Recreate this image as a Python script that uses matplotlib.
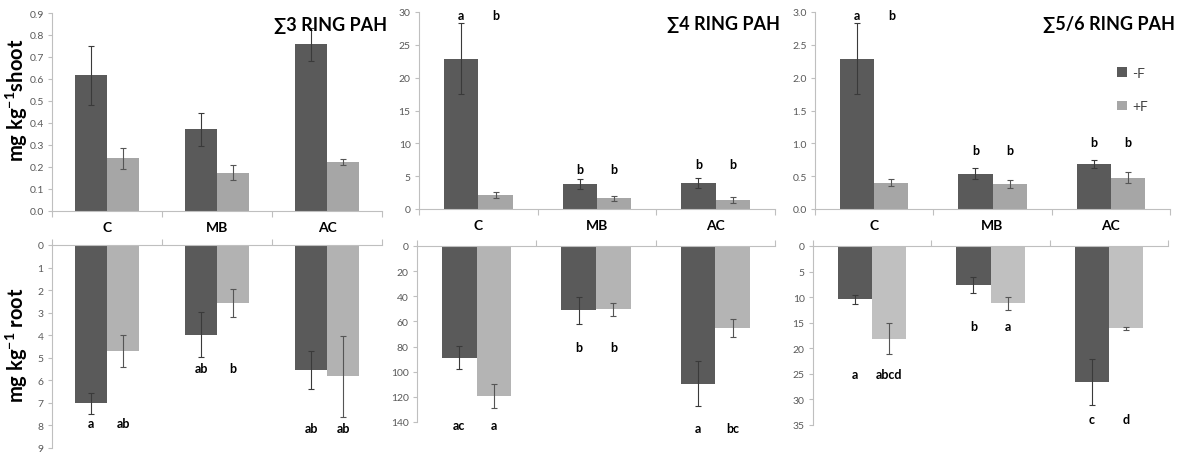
import numpy as np
import matplotlib
matplotlib.use("Agg")
import matplotlib.pyplot as plt
from matplotlib.ticker import MultipleLocator, FormatStrFormatter

plt.rcParams['font.family'] = ['Lato', 'DejaVu Sans']
plt.rcParams['mathtext.fontset'] = 'custom'
plt.rcParams['mathtext.rm'] = 'Lato'
plt.rcParams['mathtext.bf'] = 'Lato:bold'

categories = ['C', 'MB', 'AC']
series = ['-F', '+F']

# shoot concentrations (mg/kg) : -F, +F
shoot3_minus = [0.616, 0.372, 0.757]
shoot3_minus_err = [0.136, 0.075, 0.073]
shoot3_plus = [0.239, 0.175, 0.223]
shoot3_plus_err = [0.047, 0.033, 0.012]

shoot4_minus = [22.9, 3.8, 4.0]
shoot4_minus_err = [5.4, 0.75, 0.75]
shoot4_plus = [2.1, 1.63, 1.37]
shoot4_plus_err = [0.45, 0.4, 0.4]

shoot56_minus = [2.29, 0.54, 0.686]
shoot56_minus_err = [0.545, 0.08, 0.06]
shoot56_plus = [0.40, 0.38, 0.478]
shoot56_plus_err = [0.055, 0.055, 0.085]

# root concentrations (mg/kg) : -F, +F
root3_minus = [7.02, 3.97, 5.54]
root3_minus_err = [0.46, 0.98, 0.83]
root3_plus = [4.70, 2.57, 5.83]
root3_plus_err = [0.69, 0.62, 1.81]

root4_minus = [88.8, 51.2, 109.5]
root4_minus_err = [9.0, 11.0, 17.7]
root4_plus = [119.3, 50.4, 65.2]
root4_plus_err = [9.5, 5.0, 7.5]

root56_minus = [10.45, 7.7, 26.65]
root56_minus_err = [0.9, 1.55, 4.5]
root56_plus = [18.1, 11.2, 16.1]
root56_plus_err = [3.1, 1.3, 0.3]

# significance letters: (-F letters, +F letters, y position per category)
shoot4_letters = (['a', 'b', 'b'], ['b', 'b', 'b'], [29.6, 6.1, 6.8])
shoot56_letters = (['a', 'b', 'b'], ['b', 'b', 'b'], [2.96, 0.905, 1.02])
root3_letters = (['a', 'ab', 'ab'], ['ab', 'b', 'ab'], [7.9, 5.45, 8.1])
root4_letters = (['ac', 'b', 'a'], ['a', 'b', 'bc'], [142.7, 80, 144.5])
root56_letters = (['a', 'b', 'c'], ['abcd', 'a', 'd'], [25.0, 15.7, 33.8])

DARK = '#5a5a5a'
LIGHT = '#a6a6a6'
AXIS = '#bfbfbf'
TXT = '#595959'
W, H = 1193, 456
BW = 0.29

fig = plt.figure(figsize=(W / 100, H / 100), dpi=100)


def px_axes(l, t, r, b):
    return fig.add_axes([l / W, 1 - b / H, (r - l) / W, (b - t) / H])


def draw_panel(ax, minus, minus_err, plus, plus_err, ymax, step, fmt,
               root=False, light=LIGHT, letters=None, title=None):
    x = np.arange(len(categories))
    ax.bar(x - BW / 2, minus, BW, color=DARK, label=series[0], zorder=2)
    ax.bar(x + BW / 2, plus, BW, color=light, label=series[1], zorder=2)
    ax.errorbar(x - BW / 2, minus, yerr=minus_err, fmt='none', ecolor='#3a3a3a',
                elinewidth=0.8, capsize=2.5, capthick=0.8, zorder=3)
    ax.errorbar(x + BW / 2, plus, yerr=plus_err, fmt='none', ecolor='#555555',
                elinewidth=0.8, capsize=2.5, capthick=0.8, zorder=3)
    ax.set_xlim(-0.5, 2.5)
    ax.set_ylim(0, ymax)
    ax.yaxis.set_major_locator(MultipleLocator(step))
    ax.yaxis.set_major_formatter(FormatStrFormatter(fmt))
    ax.tick_params(axis='y', labelsize=7.5, colors=AXIS, labelcolor=TXT,
                   length=3, width=0.8, pad=3)
    ax.set_xticks([-0.5, 0.5, 1.5, 2.5])
    ax.set_xticklabels([])
    ax.tick_params(axis='x', which='major', colors=AXIS, length=4, width=0.8)
    for side in ax.spines:
        ax.spines[side].set_color(AXIS)
        ax.spines[side].set_linewidth(0.8)
    ax.spines['right'].set_visible(False)
    if root:
        ax.invert_yaxis()
        ax.spines['bottom'].set_visible(False)
        ax.xaxis.tick_top()
    else:
        ax.spines['top'].set_visible(False)
        ax.set_xticks(x, minor=True)
        ax.set_xticklabels(categories, minor=True, fontsize=10,
                           fontweight='bold', color='black')
        ax.tick_params(axis='x', which='minor', length=0, pad=7)
    if letters is not None:
        lm, lp, ly = letters
        for i in range(len(categories)):
            ax.text(x[i] - BW / 2, ly[i], lm[i], ha='center', va='center',
                    fontsize=9, fontweight='bold', zorder=4)
            ax.text(x[i] + BW / 2, ly[i], lp[i], ha='center', va='center',
                    fontsize=9, fontweight='bold', zorder=4)
    if title is not None:
        ax.text(1.015, 0.94, title, transform=ax.transAxes, ha='right',
                va='center', fontsize=13, fontweight='bold', zorder=5)
    ax.patch.set_alpha(0)


ax1 = px_axes(52, 14, 382, 212)
draw_panel(ax1, shoot3_minus, shoot3_minus_err, shoot3_plus, shoot3_plus_err,
           0.9, 0.1, '%.1f', title='∑3 RING PAH')

ax2 = px_axes(419, 13, 775, 210)
draw_panel(ax2, shoot4_minus, shoot4_minus_err, shoot4_plus, shoot4_plus_err,
           30, 5, '%d', letters=shoot4_letters, title='∑4 RING PAH')

ax3 = px_axes(815, 13, 1170, 210)
draw_panel(ax3, shoot56_minus, shoot56_minus_err, shoot56_plus, shoot56_plus_err,
           3.0, 0.5, '%.1f', letters=shoot56_letters, title='∑5/6 RING PAH')
ax3.legend(loc='upper left', bbox_to_anchor=(0.815, 0.785), frameon=False,
           fontsize=10, labelspacing=1.55, handlelength=0.7, handleheight=0.7,
           handletextpad=0.4, labelcolor='#404040')

ax4 = px_axes(52, 246, 382, 449)
draw_panel(ax4, root3_minus, root3_minus_err, root3_plus, root3_plus_err,
           9, 1, '%d', root=True, light='#b2b2b2', letters=root3_letters)

ax5 = px_axes(417, 247, 775, 423)
draw_panel(ax5, root4_minus, root4_minus_err, root4_plus, root4_plus_err,
           140, 20, '%d', root=True, light='#b4b4b4', letters=root4_letters)

ax6 = px_axes(813, 247, 1168, 426)
draw_panel(ax6, root56_minus, root56_minus_err, root56_plus, root56_plus_err,
           35, 5, '%d', root=True, light='#c0c0c0', letters=root56_letters)

fig.text(17 / W, 1 - 100 / H, r'mg kg$^{\mathbf{-1}}$shoot', rotation=90,
         ha='center', va='center', fontsize=14.5, fontweight='bold')
fig.text(17 / W, 1 - 345 / H, r'mg kg$^{\mathbf{-1}}$ root', rotation=90,
         ha='center', va='center', fontsize=14.5, fontweight='bold')

fig.savefig('out.png', dpi=100)
